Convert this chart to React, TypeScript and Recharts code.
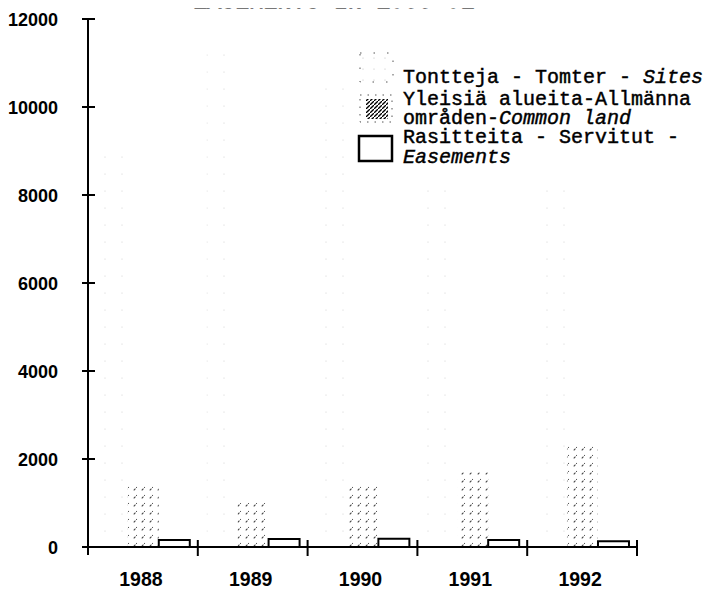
import React from 'react';
import { BarChart, Bar, XAxis, YAxis, Legend } from 'recharts';

// ---- data ----
const years = ['1988', '1989', '1990', '1991', '1992'];
const sites = [8950, 11400, 10700, 11000, 11500];
const commonLand = [1450, 1000, 1450, 1700, 2300];
const easements = [160, 180, 190, 160, 130];
const yTicks = [0, 2000, 4000, 6000, 8000, 10000, 12000];
const titleText = 'EASEMENTS IN 1988-92';
const sitesLabel = ['Tontteja - Tomter - ', 'Sites'];
const commonLabel = ['Yleisiä alueita-Allmänna', 'områden-', 'Common land'];
const easementsLabel = ['Rasitteita - Servitut -', 'Easements'];

const data = years.map((year, i) => ({
  year,
  sites: sites[i],
  common: commonLand[i],
  easements: easements[i],
}));

// ---- layout ----
const W = 727;
const H = 595;
const LEFT = 88;
const RIGHT = 637;
const TOP = 19;
const BOTTOM = 547;
const X_AXIS_H = 40;
const BAND = (RIGHT - LEFT) / years.length;

const SANS = '"Liberation Sans", Arial, Helvetica, sans-serif';
const MONO = '"Liberation Mono", "Courier New", monospace';

const YTick = (props: any) => {
  const { x, y, payload } = props;
  return (
    <g>
      <line x1={x - 6} x2={x + 7} y1={y} y2={y} stroke="#000" strokeWidth={2} />
      {payload.value === 0 && (
        <line x1={x} x2={x} y1={y} y2={y + 8} stroke="#000" strokeWidth={2} />
      )}
      <text
        x={x - 30}
        y={y}
        dy={6.5}
        textAnchor="end"
        fontFamily={SANS}
        fontWeight="bold"
        fontSize={18}
        fill="#000"
      >
        {payload.value}
      </text>
    </g>
  );
};

const XTick = (props: any) => {
  const { x, y, payload } = props;
  const bx = x + BAND / 2;
  return (
    <g>
      <line x1={bx} x2={bx} y1={y - 7} y2={y + 9} stroke="#000" strokeWidth={2} />
      <text
        x={x - 2}
        y={y + 39}
        textAnchor="middle"
        fontFamily={SANS}
        fontWeight="bold"
        fontSize={19.5}
        fill="#000"
      >
        {payload.value}
      </text>
    </g>
  );
};

const LegendContent = () => {
  const txt = {
    fontFamily: MONO,
    fontSize: 20,
    fill: '#000',
    stroke: '#000',
    strokeWidth: 0.45,
  } as any;
  return (
    <svg width={370} height={130} style={{ display: 'block', background: '#fff' }}>
      <defs>
        <pattern id="lgDots" patternUnits="userSpaceOnUse" width={11} height={11}>
          <circle cx={2} cy={2} r={0.6} fill="#bbb" />
        </pattern>
        <pattern id="lgHatch" patternUnits="userSpaceOnUse" width={4} height={4}>
          <path d="M-1,5 L5,-1" stroke="#000" strokeWidth={1.3} />
        </pattern>
      </defs>
      <rect x={10} y={8} width={33} height={29} fill="url(#lgDots)" stroke="#555" strokeWidth={1} strokeDasharray="1.5 12" />
      <rect x={10} y={50} width={32} height={27} fill="#fff" stroke="#555" strokeWidth={1} strokeDasharray="1.5 6" />
      <rect x={16} y={54} width={22} height={20} fill="url(#lgHatch)" />
      <rect x={9} y={91} width={33} height={25} fill="#fff" stroke="#000" strokeWidth={2.5} />
      <text x={53} y={38} {...txt}>
        {sitesLabel[0]}
        <tspan fontStyle="italic">{sitesLabel[1]}</tspan>
      </text>
      <text x={53} y={60} {...txt}>{commonLabel[0]}</text>
      <text x={53} y={79} {...txt}>
        {commonLabel[1]}
        <tspan fontStyle="italic">{commonLabel[2]}</tspan>
      </text>
      <text x={53} y={98} {...txt}>{easementsLabel[0]}</text>
      <text x={53} y={118} {...txt} fontStyle="italic">{easementsLabel[1]}</text>
    </svg>
  );
};

export default function App() {
  return (
    <div style={{ position: 'relative', width: W, height: H, margin: -8, background: '#fff' }}>
      <BarChart
        width={W}
        height={H}
        data={data}
        margin={{ top: TOP, right: W - RIGHT, bottom: H - BOTTOM - X_AXIS_H, left: 0 }}
        barCategoryGap="8%"
        barGap={0}
      >
        <defs>
          <pattern id="dots" patternUnits="userSpaceOnUse" width={17} height={17}>
            <circle cx={3} cy={4} r={0.55} fill="#ccc" />
          </pattern>
          <pattern id="hatch" patternUnits="userSpaceOnUse" width={8} height={8}>
            <path d="M-1,9 L9,-1" stroke="#444" strokeWidth={1.1} strokeDasharray="2.5 7" />
          </pattern>
        </defs>
        <XAxis
          dataKey="year"
          height={X_AXIS_H}
          axisLine={{ stroke: '#000', strokeWidth: 2 }}
          tickLine={false}
          tickSize={0}
          tickMargin={0}
          interval={0}
          tick={<XTick />}
        />
        <YAxis
          width={LEFT}
          domain={[0, 12000]}
          ticks={yTicks}
          interval={0}
          axisLine={{ stroke: '#000', strokeWidth: 2 }}
          tickLine={false}
          tickSize={0}
          tickMargin={0}
          tick={<YTick />}
        />
        <Legend
          layout="vertical"
          align="center"
          verticalAlign="middle"
          content={<LegendContent />}
          wrapperStyle={{ left: 350, top: 45, width: 370, height: 130 }}
        />
        <Bar dataKey="sites" name="Sites" fill="url(#dots)" isAnimationActive={false} />
        <Bar dataKey="common" name="Common land" fill="url(#hatch)" isAnimationActive={false} />
        <Bar
          dataKey="easements"
          name="Easements"
          fill="#fff"
          stroke="#000"
          strokeWidth={2}
          isAnimationActive={false}
        />
      </BarChart>
      <svg
        width={W}
        height={20}
        style={{ position: 'absolute', left: 0, top: 0, pointerEvents: 'none', zIndex: 5 }}
      >
        <text
          x={193}
          y={8}
          fontFamily={MONO}
          fontSize={23.5}
          textLength={282}
          fill="#000"
          stroke="#000"
          strokeWidth={1}
        >
          {titleText}
        </text>
      </svg>
    </div>
  );
}
